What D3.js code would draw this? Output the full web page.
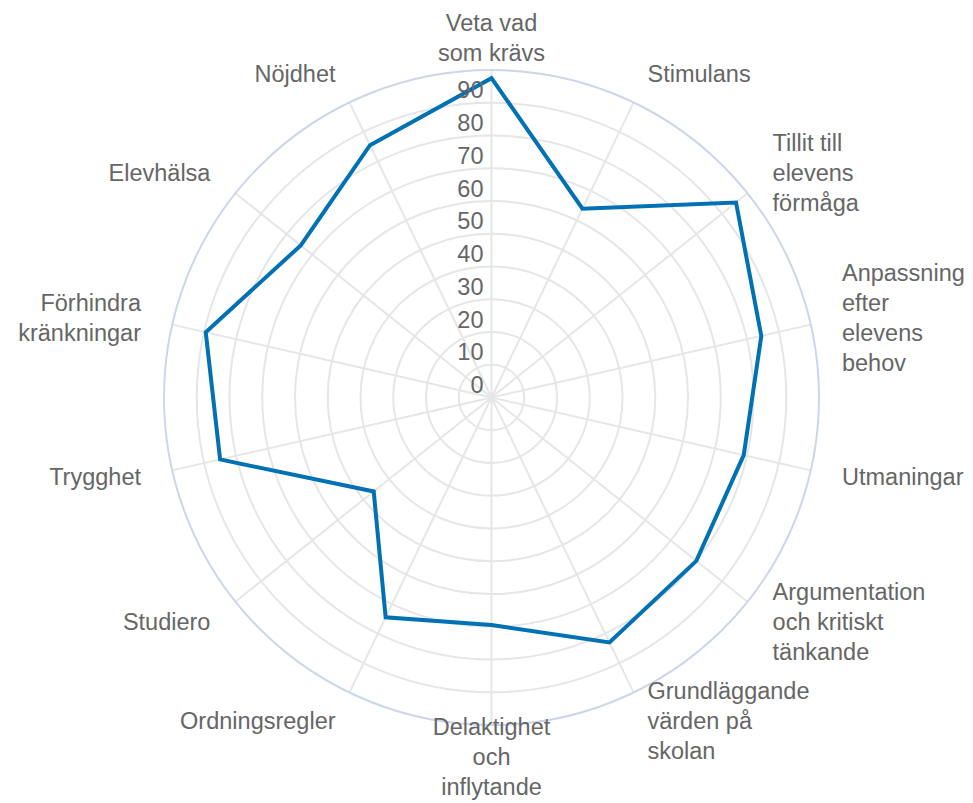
<!DOCTYPE html>
<html><head><meta charset="utf-8">
<script src="https://cdn.jsdelivr.net/npm/d3@7"></script>
<style>
html,body{margin:0;padding:0;background:#fff;}
text{font-family:"Liberation Sans",Arial,Helvetica,sans-serif;fill:#666666;}
</style></head>
<body>
<svg id="chart" width="973" height="803"></svg>
<script>
const categories = [
  ["Veta vad","som krävs"],
  ["Stimulans"],
  ["Tillit till","elevens","förmåga"],
  ["Anpassning","efter","elevens","behov"],
  ["Utmaningar"],
  ["Argumentation","och kritiskt","tänkande"],
  ["Grundläggande","värden på","skolan"],
  ["Delaktighet","och","inflytande"],
  ["Ordningsregler"],
  ["Studiero"],
  ["Trygghet"],
  ["Förhindra","kränkningar"],
  ["Elevhälsa"],
  ["Nöjdhet"]
];
const values = [97.5, 64, 95.5, 84.5, 79, 80, 83, 69.5, 74.5, 46, 85, 89.5, 74.5, 85.5];
const tickValues = [0,10,20,30,40,50,60,70,80,90];
const gridValues = [10,20,30,40,50,60,70,80,90];
const axisMax = 100;

const cx = 491.5, cy = 397.5, R = 327.5;
const svg = d3.select("#chart");
const g = svg.append("g").attr("transform", `translate(${cx},${cy})`);

const r = d3.scaleLinear().domain([0, axisMax]).range([0, R]);
const angle = d3.scaleLinear().domain([0, categories.length]).range([0, 2*Math.PI]);

// concentric gridlines
g.selectAll("circle.grid").data(gridValues).join("circle")
  .attr("class","grid").attr("r", d => r(d))
  .attr("fill","none").attr("stroke","#e6e6e6").attr("stroke-width",2);

// spokes
g.selectAll("line.spoke").data(categories).join("line")
  .attr("class","spoke")
  .attr("x1",0).attr("y1",0)
  .attr("x2",(d,i)=> r(axisMax)*Math.sin(angle(i)))
  .attr("y2",(d,i)=> -r(axisMax)*Math.cos(angle(i)))
  .attr("stroke","#e6e6e6").attr("stroke-width",2);

// outer circle
g.append("circle").attr("r", r(axisMax)).attr("fill","none")
  .attr("stroke","#ccd6eb").attr("stroke-width",2);

// series line
const line = d3.lineRadial()
  .angle((d,i)=> angle(i))
  .radius(d => r(d))
  .curve(d3.curveLinearClosed);
g.append("path").datum(values)
  .attr("d", line)
  .attr("fill","none").attr("stroke","#0071b3").attr("stroke-width",4)
  .attr("stroke-linejoin","miter");

// tick labels
g.selectAll("text.tick").data(tickValues).join("text")
  .attr("class","tick")
  .attr("x",-8).attr("y", d => -r(d) - 4.5)
  .attr("text-anchor","end")
  .style("font-size","23.5px")
  .text(d => d);

// category labels
const labelR = 359.5, lh = 30;
categories.forEach((lines, i) => {
  const a = angle(i);
  const s = Math.sin(a), c = Math.cos(a);
  const x = labelR * s, y = -labelR * c;
  const anchor = Math.abs(s) < 0.05 ? "middle" : (s > 0 ? "start" : "end");
  const t = g.append("text").attr("text-anchor", anchor).style("font-size","23.5px");
  lines.forEach((ln, j) => {
    t.append("tspan").attr("x", x)
      .attr("y", y + (j - (lines.length-1)/2)*lh + 8)
      .text(ln);
  });
});
</script>
</body></html>
